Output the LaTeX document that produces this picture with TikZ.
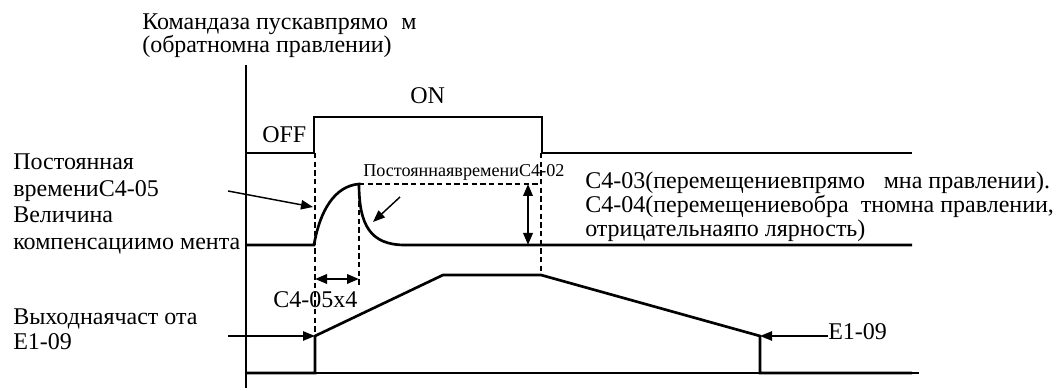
\documentclass[tikz,border=0pt]{standalone}
\usepackage{fontspec}
\setmainfont{Liberation Serif}
\usetikzlibrary{arrows.meta}
\begin{document}
\begin{tikzpicture}[x=0.75pt,y=-0.75pt,
  sig/.style={line width=2pt, line join=miter},
  thinline/.style={line width=1pt},
  dsh/.style={line width=0.8pt, dash pattern=on 4pt off 2.5pt},
  arr/.style={line width=1.1pt, -{Triangle[length=9pt,width=7pt]}},
  darr/.style={line width=1.8pt, {Triangle[length=9pt,width=7pt]}-{Triangle[length=9pt,width=7pt]}},
  lbl/.style={anchor=base west, inner sep=0pt, font=\fontsize{18}{21}\selectfont},
  slbl/.style={anchor=base west, inner sep=0pt, font=\fontsize{13.6}{16}\selectfont},
]
\useasboundingbox (0,0) rectangle (1061,391);

% coordinates
\coordinate (axT) at (246,65);
\coordinate (axB) at (246,388);
\coordinate (c0) at (246,153);
\coordinate (c1) at (314,153);
\coordinate (c2) at (314,117);
\coordinate (c3) at (542,117);
\coordinate (c4) at (542,153);
\coordinate (c5) at (912,153);
\coordinate (t0) at (246,245);
\coordinate (t1) at (314,245);
\coordinate (tp) at (359,184);
\coordinate (t2) at (405,245);
\coordinate (t3) at (912,245);
\coordinate (f0) at (246,373);
\coordinate (f1) at (315,373);
\coordinate (f2) at (315,336);
\coordinate (f3) at (443,275);
\coordinate (f4) at (541,275);
\coordinate (f5) at (760,336);
\coordinate (f6) at (760,373);
\coordinate (f7) at (912,373);
\coordinate (tax) at (919,373);

% axis
\draw[thinline] (axT) -- (axB);
\draw[thinline] (f1) -- (tax);

% command signal
\draw[sig] (c0) -- (c1) -- (c2) -- (c3) -- (c4) -- (c5);

% torque compensation
\draw[sig] (t0) -- (t1) .. controls (320,210) and (335,186) .. (tp)
  .. controls (359,226) and (371,245) .. (t2) -- (t3);

% output frequency
\draw[sig] (f0) -- (f1) -- (f2) -- (f3) -- (f4) -- (f5) -- (f6) -- (f7);

% dashed guides
\coordinate (d1) at (359,285);
\coordinate (dh) at (541,184);
\coordinate (d2t) at (541,153);
\draw[dsh] (315,153) -- (f2);
\draw[dsh] (tp) -- (d1);
\draw[dsh] (d2t) -- (f4);
\draw[dsh] (tp) -- (dh);

% double arrows
\coordinate (va) at (528,184);
\coordinate (vb) at (528,245);
\draw[darr] (va) -- (vb);
\coordinate (ha) at (315,279);
\coordinate (hb) at (359,279);
\draw[darr] (ha) -- (hb);

% texts
\node[lbl] (title1) at (142,30) {Командаза пускавпрямо\hspace{10pt}м};
\node[lbl] (title2) at (142,53) {(обратномна правлении)};
\node[lbl] (off) at (262,143) {OFF};
\node[lbl] (on) at (410,104) {ON};
\node[lbl] (l1) at (13,170) {Постоянная};
\node[lbl] (l2) at (13,197) {времениC4-05};
\node[lbl] (l3) at (13,223) {Величина};
\node[lbl] (l4) at (13,250) {компенсациимо мента};
\node[lbl] (o1) at (13,325) {Выходнаячаст ота};
\node[lbl] (o2) at (13,350) {E1-09};
\node[slbl] (c402) at (363,177) {ПостояннаявремениC4-02};
\node[lbl] (c405x4) at (273,308) {C4-05x4};
\node[lbl] (r1) at (585,189) {C4-03(перемещениевпрямо\hspace{14pt}мна правлении).};
\node[lbl] (r2) at (585,213) {C4-04(перемещениевобра\hspace{9pt}тномна правлении,};
\node[lbl] (r3) at (585,237) {отрицательнаяпо лярность)};
\node[lbl] (e109) at (828,340) {E1-09};

% pointer arrows
\coordinate (a1s) at (228,191);
\coordinate (a1e) at (313,207);
\draw[arr] (a1s) -- (a1e);
\coordinate (a2s) at (400,197);
\coordinate (a2e) at (373,222);
\draw[arr] (a2s) -- (a2e);
\coordinate (a3s) at (228,336);
\draw[arr] (a3s) -- (f2);
\draw[arr] (e109.west |- f5) -- (f5);
\end{tikzpicture}
\end{document}
